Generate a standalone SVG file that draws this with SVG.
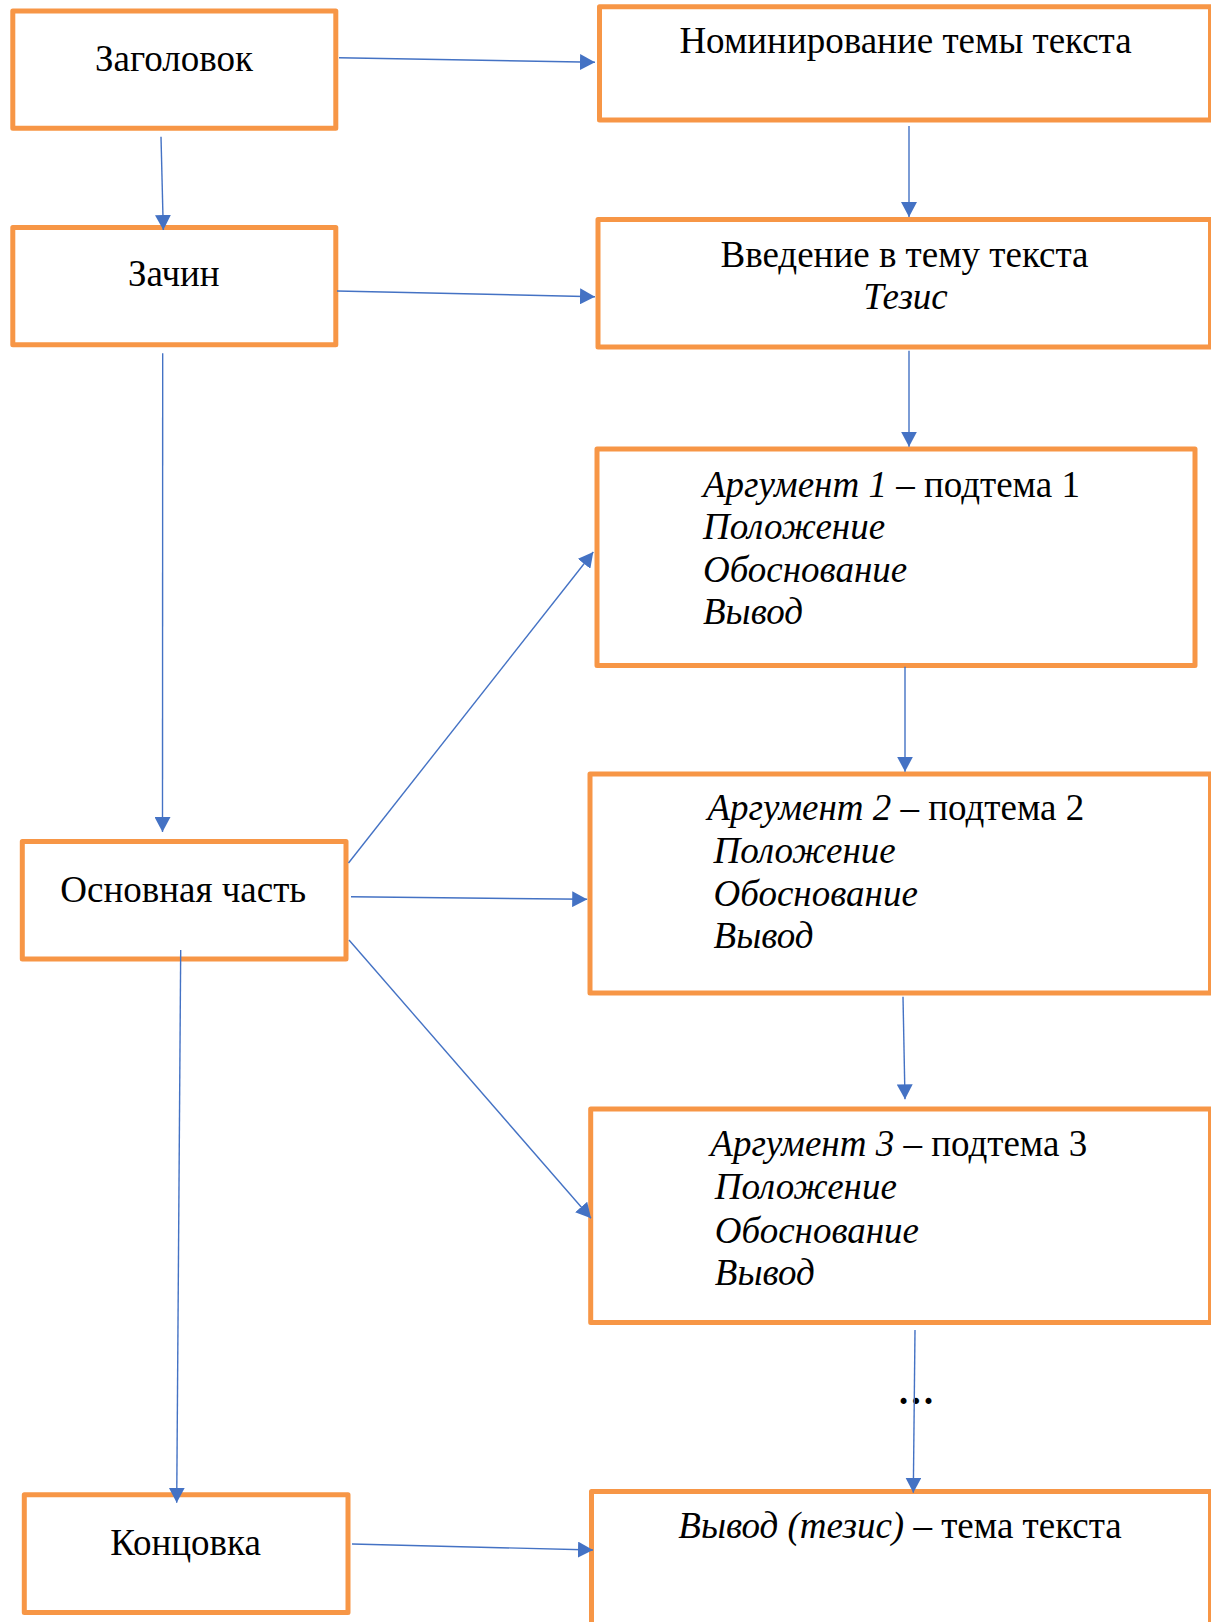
<svg xmlns="http://www.w3.org/2000/svg" width="1211" height="1622" viewBox="0 0 1211 1622">
<style>
.box{fill:#FFFFFF;stroke:#F79646;stroke-width:5;stroke-linejoin:round}
.t{font-family:"Liberation Serif","Times New Roman",serif;font-size:37px;fill:#000000}
.c{text-anchor:middle}
.i{font-style:italic}
.ln{stroke:#4472C4;stroke-width:1.4;fill:none;marker-end:url(#ah)}
</style>
<defs>
<marker id="ah" viewBox="0 0 15 16" refX="15" refY="8" markerWidth="15" markerHeight="16" markerUnits="userSpaceOnUse" orient="auto">
<path d="M0,0 L15,8 L0,16 z" fill="#4472C4"/>
</marker>
</defs>
<rect width="1211" height="1622" fill="#FFFFFF"/>
<g id="n-zagolovok">
<rect class="box" x="12.8" y="11" width="323" height="117.3"/>
<text class="t c" x="174" y="70.7">Заголовок</text>
</g>
<g id="n-nominirovanie">
<rect class="box" x="599.5" y="6.7" width="611" height="113.3"/>
<text class="t c" x="905.5" y="53.3">Номинирование темы текста</text>
</g>
<g id="n-zachin">
<rect class="box" x="12.8" y="227.5" width="323" height="117.3"/>
<text class="t c" x="173.8" y="286">Зачин</text>
</g>
<g id="n-vvedenie">
<rect class="box" x="598" y="219.5" width="612.5" height="127.5"/>
<text class="t c" x="904.5" y="266.7">Введение в тему текста</text>
<text class="t c i" x="905.5" y="309">Тезис</text>
</g>
<g id="n-arg1">
<rect class="box" x="597" y="449" width="598" height="216.5"/>
<text class="t" x="703" y="496.7"><tspan class="i">Аргумент 1</tspan> – подтема 1</text>
<text class="t i" x="703" y="539.3">Положение</text>
<text class="t i" x="703" y="581.7">Обоснование</text>
<text class="t i" x="703" y="624">Вывод</text>
</g>
<g id="n-arg2">
<rect class="box" x="590" y="774" width="620.5" height="219"/>
<text class="t" x="707.4" y="820"><tspan class="i">Аргумент 2</tspan> – подтема 2</text>
<text class="t i" x="713.6" y="863.3">Положение</text>
<text class="t i" x="713.6" y="906">Обоснование</text>
<text class="t i" x="713.6" y="948.3">Вывод</text>
</g>
<g id="n-osnovnaya">
<rect class="box" x="22.3" y="841.5" width="323.7" height="117.5"/>
<text class="t c" x="183.3" y="901.7">Основная часть</text>
</g>
<g id="n-arg3">
<rect class="box" x="590.7" y="1109" width="619.8" height="213.5"/>
<text class="t" x="710.3" y="1156"><tspan class="i">Аргумент 3</tspan> – подтема 3</text>
<text class="t i" x="714.8" y="1199.3">Положение</text>
<text class="t i" x="714.8" y="1242.7">Обоснование</text>
<text class="t i" x="714.8" y="1285">Вывод</text>
</g>
<g id="n-koncovka">
<rect class="box" x="24.3" y="1494.8" width="323.7" height="117.7"/>
<text class="t c" x="185.5" y="1555">Концовка</text>
</g>
<g id="n-vyvod">
<rect class="box" x="591.5" y="1491.5" width="619" height="200"/>
<text class="t c" x="900" y="1538.3"><tspan class="i">Вывод (тезис)</tspan> – тема текста</text>
</g>
<g id="ellipsis">
<text class="t c" x="916" y="1404" font-weight="bold">…</text>
</g>
<g id="connectors">
<line class="ln" x1="339" y1="57.7" x2="595" y2="62.3"/>
<line class="ln" x1="161" y1="136.7" x2="163.3" y2="230"/>
<line class="ln" x1="337" y1="291" x2="595" y2="296.7"/>
<line class="ln" x1="909" y1="126" x2="909" y2="217"/>
<line class="ln" x1="909" y1="350.7" x2="909" y2="446.7"/>
<line class="ln" x1="162.7" y1="353.3" x2="162.5" y2="832"/>
<line class="ln" x1="348.5" y1="863" x2="593.3" y2="552"/>
<line class="ln" x1="351" y1="896.7" x2="587.2" y2="899.3"/>
<line class="ln" x1="349" y1="940" x2="591" y2="1218.3"/>
<line class="ln" x1="905" y1="666.7" x2="905" y2="771.7"/>
<line class="ln" x1="903" y1="996.7" x2="905" y2="1099.3"/>
<line class="ln" x1="915" y1="1330" x2="913.3" y2="1492.7"/>
<line class="ln" x1="180.7" y1="950" x2="176.7" y2="1502.7"/>
<line class="ln" x1="352" y1="1544" x2="593" y2="1550"/>
</g>
</svg>
